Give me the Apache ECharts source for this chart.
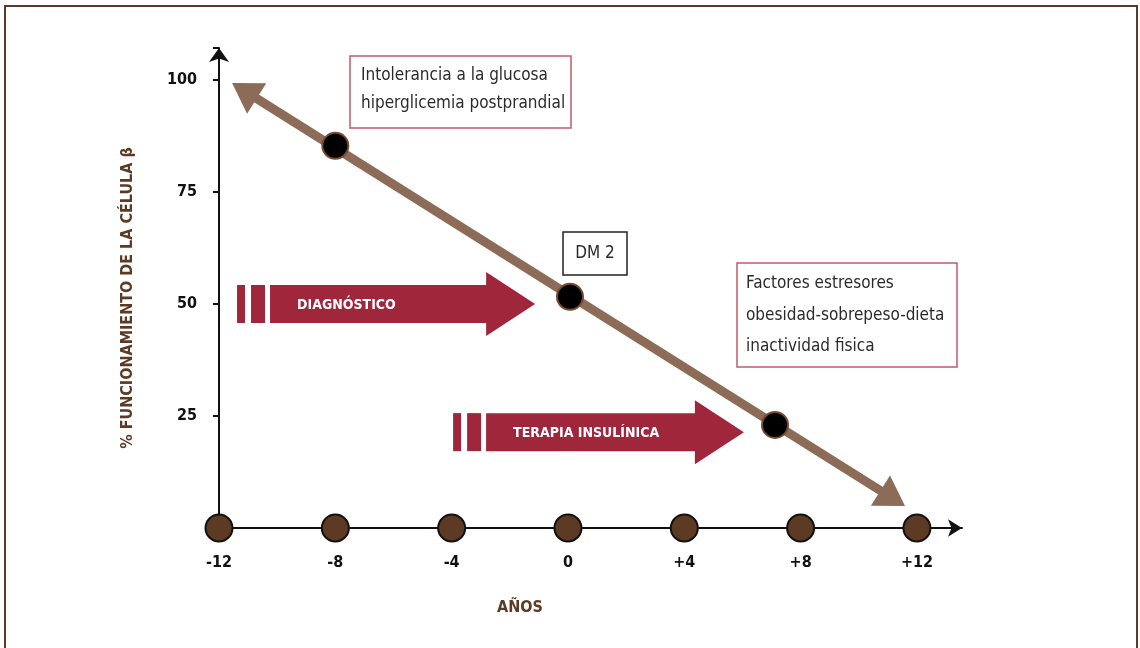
<!DOCTYPE html>
<html>
<head>
<meta charset="utf-8">
<script src="https://cdn.jsdelivr.net/npm/echarts@6/dist/echarts.min.js"></script>
<style>
  html, body { margin: 0; padding: 0; background: #fff; }
  #chart { width: 1140px; height: 648px; }
</style>
</head>
<body>
<div id="chart"></div>
<script>
var FONT = '"Liberation Sans Narrow", "DejaVu Sans Condensed", "Roboto", sans-serif';

// años sobre el eje x
var yearTicks = [-12, -8, -4, 0, 4, 8, 12];
// recta de funcionamiento de la célula beta (puntas de flecha)
var trendTips = [[-11.55, 99.3], [11.59, 4.9]];
// puntos negros sobre la recta
var stagePoints = [[-8, 85.3], [0.07, 51.6], [7.12, 23.0]];
// flechas rojas: [inicio, punta, nivel, texto]
var phaseStart = [-11.38, -3.95];
var phaseTip = [-1.13, 6.05];
var phaseLevel = [50, 21.4];
var phaseText = ['DIAGNÓSTICO', 'TERAPIA INSULÍNICA'];

var chartDom = document.getElementById('chart');
var myChart = echarts.init(chartDom);

var phaseData = phaseStart.map(function (s, i) {
  return [s, phaseTip[i], phaseLevel[i], phaseText[i]];
});

function renderTrend(params, api) {
  var a = api.coord([api.value(0), api.value(1)]);
  var b = api.coord([api.value(2), api.value(3)]);
  var dx = b[0] - a[0], dy = b[1] - a[1];
  var len = Math.sqrt(dx * dx + dy * dy);
  var ux = dx / len, uy = dy / len;
  var nx = -uy, ny = ux;
  var hl = 29, hw = 18;
  var color = '#8c6b57';
  function head(tip, dir) {
    var bx = tip[0] + dir * ux * hl, by = tip[1] + dir * uy * hl;
    return {
      type: 'polygon',
      shape: { points: [tip, [bx + nx * hw, by + ny * hw], [bx - nx * hw, by - ny * hw]] },
      style: { fill: color }
    };
  }
  return {
    type: 'group',
    children: [
      {
        type: 'line',
        shape: { x1: a[0] + ux * (hl - 4), y1: a[1] + uy * (hl - 4), x2: b[0] - ux * (hl - 4), y2: b[1] - uy * (hl - 4) },
        style: { stroke: color, lineWidth: 9 }
      },
      head(a, 1),
      head(b, -1)
    ]
  };
}

function renderPhase(params, api) {
  var p0 = api.coord([api.value(0), api.value(2)]);
  var p1 = api.coord([api.value(1), api.value(2)]);
  var cy = p0[1];
  var red = '#a0263b';
  var bodyX = p0[0] + 33;
  var headX = p1[0] - 49;
  return {
    type: 'group',
    children: [
      { type: 'rect', shape: { x: p0[0], y: cy - 19, width: 8, height: 38 }, style: { fill: red } },
      { type: 'rect', shape: { x: p0[0] + 14, y: cy - 19, width: 14, height: 38 }, style: { fill: red } },
      { type: 'rect', shape: { x: bodyX, y: cy - 19, width: headX - bodyX + 1, height: 38 }, style: { fill: red } },
      {
        type: 'polygon',
        shape: { points: [[headX, cy - 32], [p1[0], cy], [headX, cy + 32]] },
        style: { fill: red }
      },
      {
        type: 'text',
        style: {
          x: bodyX + 27, y: cy + 1, text: api.value(3),
          fill: '#fff', font: 'bold 14px ' + FONT,
          textAlign: 'left', textVerticalAlign: 'middle'
        }
      }
    ]
  };
}

function box(x, y, w, h, stroke, text, lh, tx, ty, align) {
  return {
    type: 'group',
    children: [
      { type: 'rect', shape: { x: x, y: y, width: w, height: h }, style: { fill: '#fff', stroke: stroke, lineWidth: 1.5 } },
      {
        type: 'text',
        style: {
          x: tx, y: ty, text: text, fill: '#2b2b2b',
          font: '17px ' + FONT, lineHeight: lh,
          textAlign: align, textVerticalAlign: 'top'
        }
      }
    ]
  };
}

var option = {
  backgroundColor: '#fff',
  animation: false,
  textStyle: { fontFamily: FONT },
  grid: { left: 219, right: 178, top: 48, bottom: 120 },
  xAxis: {
    type: 'value',
    min: -12,
    max: 13.55,
    interval: 4,
    splitLine: { show: false },
    axisTick: { show: false },
    axisLine: {
      onZero: false,
      symbol: ['none', 'arrow'],
      symbolSize: [13, 14],
      lineStyle: { color: '#111', width: 2 }
    },
    axisLabel: {
      margin: 27,
      color: '#111',
      fontWeight: 'bold',
      fontSize: 16,
      fontFamily: FONT,
      formatter: function (v) {
        if (yearTicks.indexOf(v) < 0) return '';
        return v > 0 ? '+' + v : String(v);
      }
    }
  },
  yAxis: {
    type: 'value',
    min: 0,
    max: 107.14,
    interval: 25,
    splitLine: { show: false },
    axisTick: { show: true, length: 6, lineStyle: { color: '#111', width: 2 } },
    axisLine: {
      onZero: false,
      symbol: ['none', 'arrow'],
      symbolSize: [15, 14],
      lineStyle: { color: '#111', width: 2 }
    },
    axisLabel: {
      margin: 22,
      color: '#111',
      fontWeight: 'bold',
      fontSize: 16,
      fontFamily: FONT,
      formatter: function (v) {
        return v > 0 && v % 25 === 0 ? String(v) : '';
      }
    }
  },
  graphic: [
    {
      type: 'polyline',
      shape: { points: [[5, 660], [5, 6], [1137, 6], [1137, 660]] },
      style: { stroke: '#5a3a28', lineWidth: 2, fill: null }
    },
    {
      type: 'text',
      x: 128, y: 298, rotation: Math.PI / 2,
      style: {
        text: '% FUNCIONAMIENTO DE LA CÉLULA β',
        fill: '#5c3a24', font: 'bold 16px ' + FONT,
        textAlign: 'center', textVerticalAlign: 'middle'
      }
    },
    {
      type: 'text',
      x: 520, y: 608,
      style: {
        text: 'AÑOS', fill: '#5c3a24', font: 'bold 16px ' + FONT,
        textAlign: 'center', textVerticalAlign: 'middle'
      }
    },
    box(350, 56, 221, 72, '#c25a6c', 'Intolerancia a la glucosa\nhiperglicemia postprandial', 28, 361, 62, 'left'),
    box(563, 232, 64, 43, '#222', 'DM 2', 20, 595, 244, 'center'),
    box(737, 263, 220, 104, '#c25a6c', 'Factores estresores\nobesidad-sobrepeso-dieta\ninactividad fisica', 31.5, 746, 268, 'left')
  ],
  series: [
    {
      type: 'custom',
      renderItem: renderTrend,
      data: [[trendTips[0][0], trendTips[0][1], trendTips[1][0], trendTips[1][1]]],
      clip: false,
      silent: true,
      z: 2
    },
    {
      type: 'custom',
      renderItem: renderPhase,
      data: phaseData,
      clip: false,
      silent: true,
      z: 2
    },
    {
      type: 'scatter',
      data: stagePoints,
      symbolSize: 26,
      clip: false,
      itemStyle: { color: '#000', borderColor: '#7a4a30', borderWidth: 2, opacity: 1 },
      z: 4
    },
    {
      type: 'scatter',
      data: yearTicks.map(function (v) { return [v, 0]; }),
      symbolSize: 27,
      clip: false,
      itemStyle: { color: '#5c3a24', borderColor: '#111', borderWidth: 2, opacity: 1 },
      z: 4
    }
  ]
};

myChart.setOption(option);

window.onresize = () => {
  myChart.resize();
}
</script>
</body>
</html>
